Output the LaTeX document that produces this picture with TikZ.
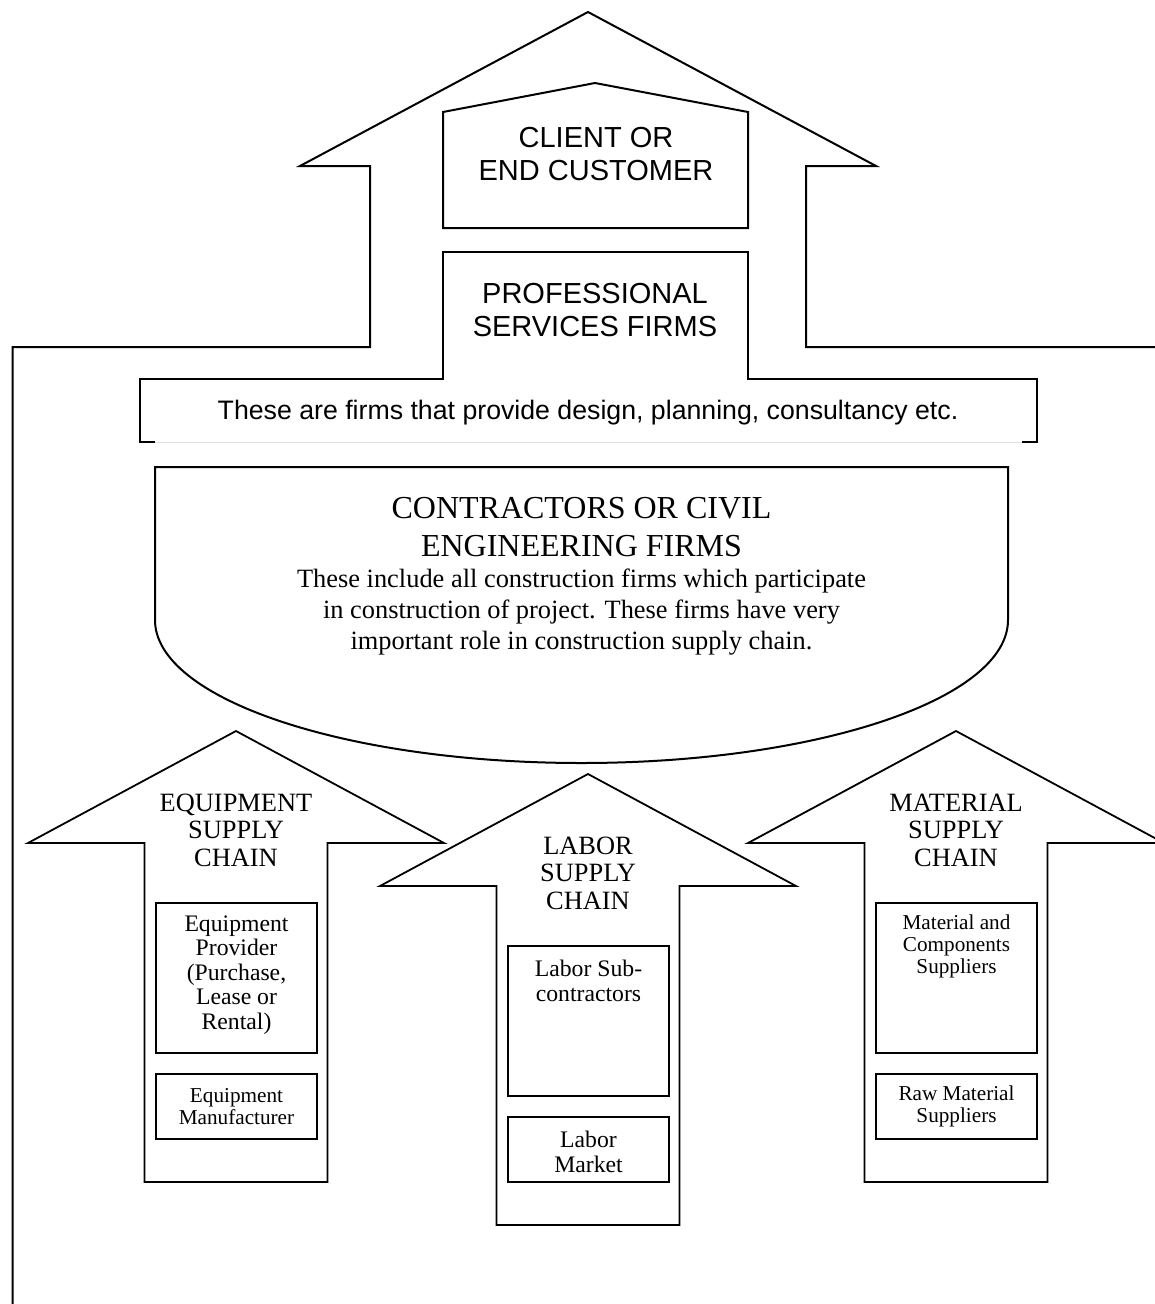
\documentclass[tikz,border=0pt]{standalone}
\usepackage{fontspec}
\setmainfont{Liberation Serif}
\setsansfont{Liberation Sans}
\begin{document}
\begin{tikzpicture}[x=1pt,y=-1pt,
  outline/.style={draw=black, line width=2pt, line join=miter},
  armline/.style={draw=black, line width=1.8pt, line join=miter, fill=white},
  boxline/.style={draw=black, line width=1.8pt, fill=white, inner sep=0pt},
  sanshead/.style={font=\sffamily\fontsize{29}{33}\selectfont, align=center},
  sansnote/.style={font=\sffamily\fontsize{26.7}{30}\selectfont, align=center},
  serifhead/.style={font=\fontsize{32}{38}\selectfont, align=center},
  serifbody/.style={font=\fontsize{26.4}{31}\selectfont, align=center},
  armtitle/.style={font=\fontsize{26.4}{27.5}\selectfont, align=center},
  boxtext/.style={font=\fontsize{23.7}{24.5}\selectfont, align=center},
  smalltext/.style={font=\fontsize{21.2}{22}\selectfont, align=center},
  chainarrow/.pic={
    \draw[armline] (0,0) -- (208,112) -- (91.5,112) -- (91.5,451)
      -- (-91.5,451) -- (-91.5,112) -- (-208,112) -- cycle;
  }
]
\useasboundingbox (0,0) rectangle (1155,1304);
\clip (0,0) rectangle (1155,1304);

% large upward arrow framing the whole chain
\draw[outline] (12.5,1310) -- (12.5,347) -- (370,347) -- (370,166) -- (300,166)
  -- (588,12) -- (876,166) -- (806,166) -- (806,347) -- (1170,347);

% client at the tip
\draw[outline] (443,228) -- (443,112) -- (595,83) -- (748,112) -- (748,228) -- cycle;
\node[sanshead] (client) at (596,154) {CLIENT OR\\END CUSTOMER};

% professional services firms with their description band
\draw[outline] (155,442) -- (140,442) -- (140,379) -- (443,379) -- (443,252)
  -- (748,252) -- (748,379) -- (1037,379) -- (1037,442) -- (1022,442);
\draw[draw=black!12, line width=1pt] (155,442) -- (1022,442);
\node[sanshead] (prof) at (595,310) {PROFESSIONAL\\SERVICES FIRMS};
\node[sansnote] (profnote) at (588,413) {These are firms that provide design, planning, consultancy etc.};

% contractors bowl
\draw[outline] (155,620) -- (155,467) -- (1008,467) -- (1008,620)
  arc[start angle=0, end angle=-180, x radius=426.5pt, y radius=143pt];
\node[serifhead] (contr) at (581.5,527) {CONTRACTORS OR CIVIL\\ENGINEERING FIRMS};
\node[serifbody] (contrnote) at (581.5,612) {These include all construction firms which participate\\in construction of project. These firms have very\\important role in construction supply chain.};

% three supply chain arrows
\pic at (236,731) {chainarrow};
\pic at (956,731) {chainarrow};
\pic at (588,774) {chainarrow};

\node[armtitle] (equip) at (236,830) {EQUIPMENT\\SUPPLY\\CHAIN};
\node[armtitle] (labor) at (588,873) {LABOR\\SUPPLY\\CHAIN};
\node[armtitle] (mat) at (956,830) {MATERIAL\\SUPPLY\\CHAIN};

% equipment chain members
\node[boxline, minimum width=161pt, minimum height=150pt] (eqprov) at (236.5,978) {};
\node[boxtext] (eqprovtxt) at (236.5,975) {Equipment\\Provider\\(Purchase,\\Lease or\\Rental)};
\node[boxline, minimum width=161pt, minimum height=65pt] (eqman) at (236.5,1106.5) {};
\node[smalltext] (eqmantxt) at (236.5,1107) {Equipment\\Manufacturer};

% labor chain members
\node[boxline, minimum width=161pt, minimum height=150pt] (labsub) at (588.5,1021) {};
\node[boxtext] (labsubtxt) at (588.5,981) {Labor Sub-\\contractors};
\node[boxline, minimum width=161pt, minimum height=65pt] (labmkt) at (588.5,1149.5) {};
\node[boxtext] (labmkttxt) at (588.5,1152) {Labor\\Market};

% material chain members
\node[boxline, minimum width=161pt, minimum height=150pt] (matcomp) at (956.5,978) {};
\node[smalltext] (matcomptxt) at (956.5,946) {Material and\\Components\\Suppliers};
\node[boxline, minimum width=161pt, minimum height=65pt] (matraw) at (956.5,1106.5) {};
\node[smalltext] (matrawtxt) at (956.5,1106) {Raw Material\\Suppliers};
\end{tikzpicture}
\end{document}
